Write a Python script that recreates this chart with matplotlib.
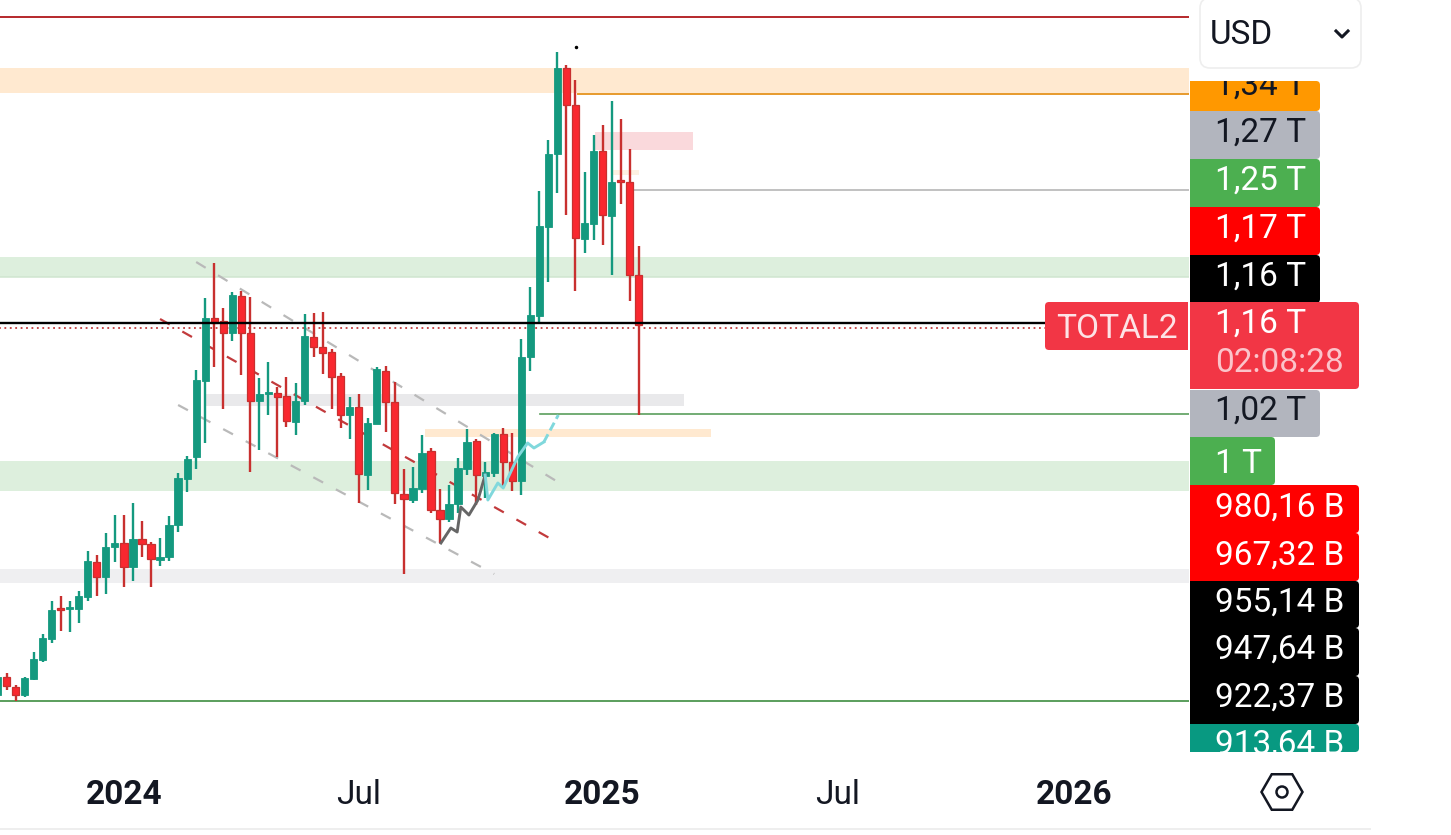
"""
Weekly TOTAL2 candlestick chart with drawings and a stack of price tags.
Candle values are chart levels read off the picture (no price grid is shown).

Usage :
    python plot.py
    -> writes out.png
"""
import numpy as np
import matplotlib
matplotlib.use("Agg")
import matplotlib.pyplot as plt
from matplotlib.patches import FancyBboxPatch, Rectangle, RegularPolygon, Circle

plt.rcParams["font.family"] = ["Roboto", "DejaVu Sans"]

OUTPUT_PATH = "out.png"
FONT_SIZE = 24

# =============================================================================
# CANDLES (one per week)
# =============================================================================
FIRST_WEEK = -1
OPENS = [140, 158, 148, 140, 156, 175, 196, 227, 226, 226, 238, 273, 258, 288, 292, 268, 296, 291,
         275, 278, 310, 356, 378, 454, 517, 514, 502, 539, 502, 434, 441, 442, 439, 413, 434, 498,
         488, 483, 459, 420, 428, 360, 411, 464, 433, 341, 335, 346, 384, 325, 316, 331, 366, 394,
         359, 362, 401, 373, 354, 478, 519, 608, 681, 767, 730, 596, 611, 684, 619, 655, 653, 560]
HIGHS = [160, 162, 150, 158, 183, 201, 234, 239, 234, 244, 284, 280, 302, 320, 320, 332, 314, 293,
         297, 319, 362, 379, 465, 537, 572, 527, 543, 544, 538, 457, 473, 448, 458, 452, 521, 522,
         523, 486, 462, 438, 441, 417, 468, 469, 453, 366, 368, 400, 387, 346, 350, 377, 406, 396,
         373, 402, 407, 402, 496, 548, 644, 695, 783, 770, 755, 663, 700, 710, 734, 716, 686, 589]
LOWS = [138, 145, 134, 138, 155, 173, 192, 204, 203, 212, 234, 239, 241, 273, 248, 254, 278, 248,
        269, 274, 303, 343, 366, 392, 468, 426, 494, 460, 363, 385, 420, 378, 408, 400, 430, 478,
        461, 426, 407, 396, 332, 345, 411, 403, 331, 261, 332, 342, 322, 292, 313, 322, 360, 330,
        337, 358, 347, 344, 340, 464, 512, 553, 642, 620, 544, 582, 595, 590, 560, 631, 534, 420]
CLOSES = [158, 149, 140, 157, 176, 197, 225, 225, 228, 239, 274, 258, 288, 292, 268, 296, 291, 276,
          278, 310, 357, 376, 455, 517, 512, 502, 540, 502, 434, 441, 443, 438, 414, 434, 499, 488,
          482, 458, 420, 428, 361, 412, 466, 433, 342, 336, 347, 382, 325, 316, 331, 367, 393, 360,
          363, 401, 373, 354, 478, 520, 609, 681, 767, 730, 597, 612, 684, 620, 653, 653, 560, 510]

# week index of each time label
TICK_WEEKS = [13, 39, 66, 92, 118.2]
TICK_LABELS = ["2024", "Jul", "2025", "Jul", "2026"]
TICK_BOLD = [True, False, True, False, True]

# =============================================================================
# DRAWINGS
# =============================================================================
# (level bottom, level top, color)
FULL_BANDS = [
    (742, 767, "#ffe9d0"),
    (558, 578, "#ddefdd"),
    (344, 374, "#ddefdd"),
    (252, 266, "#efeff1"),
]
# (week start, week end, level bottom, level top, color)
SHORT_BANDS = [
    (65.2, 76.0, 685, 703, "#fad9dc"),
    (66.9, 70.0, 660, 665, "#fdf1e2"),
    (22.0, 75.0, 429, 441, "#e9e9eb"),
    (46.3, 78.0, 398, 406, "#ffe9d0"),
]
# (week start, week end, level, color, width)
LEVEL_LINES = [
    (-1.0, 131.5, 818, "#b5282b", 1.4),
    (63.3, 131.5, 741, "#e79a2c", 1.4),
    (69.1, 131.5, 645, "#b0b0b0", 1.1),
    (-1.0, 131.5, 558, "#cfe5cf", 1.1),
    (59.1, 131.5, 421, "#5a9e5c", 1.2),
    (-1.0, 131.5, 134, "#5a9e5c", 1.4),
]
PRICE_LINE_END = 115.1
LAST_LEVEL = 512
CLOSE_LEVEL = 507.5

# (week start, level start, week end, level end, color)
TREND_LINES = [
    (21.0, 573, 61.6, 350, "#b9b9b9"),
    (19.0, 430, 54.0, 261, "#b9b9b9"),
    (17.0, 516, 60.5, 295, "#c23a3c"),
]
GREY_PATH_WEEKS = [48.1, 49.2, 49.9, 50.3, 51.2, 52.2, 53.0]
GREY_PATH_LEVELS = [292, 307, 303, 328, 320, 335, 360]
CYAN_PATH_WEEKS = [53.0, 53.3, 54.4, 55.0, 56.6, 57.7, 58.4, 59.5]
CYAN_PATH_LEVELS = [360, 335, 352, 347, 378, 392, 387, 393]
CYAN_DASH_WEEKS = [59.5, 61.1]
CYAN_DASH_LEVELS = [393, 420]

# =============================================================================
# PRICE TAGS
# =============================================================================
# (label, top, bottom, right, face, text color, text row)
TAGS = [
    ("1,34 T", 81, 111, 1320, "#ff9800", "#131722", 86),
    ("1,27 T", 111, 159, 1320, "#b2b5be", "#131722", 133),
    ("1,25 T", 159, 207, 1320, "#4caf50", "#ffffff", 181),
    ("1,17 T", 207, 255, 1320, "#ff0000", "#ffffff", 229),
    ("1,16 T", 255, 303, 1320, "#000000", "#ffffff", 277),
    ("1,02 T", 390, 437, 1320, "#b2b5be", "#131722", 411),
    ("1 T", 437, 485, 1275, "#4caf50", "#ffffff", 464),
    ("980,16 B", 485, 533, 1359, "#ff0000", "#ffffff", 508),
    ("967,32 B", 533, 581, 1359, "#ff0000", "#ffffff", 556),
    ("955,14 B", 581, 628, 1359, "#000000", "#ffffff", 603),
    ("947,64 B", 628, 676, 1359, "#000000", "#ffffff", 650),
    ("922,37 B", 676, 724, 1359, "#000000", "#ffffff", 698),
    ("913,64 B", 724, 752, 1359, "#089981", "#ffffff", 745),
]

UP_COLOR = "#14997f"
DOWN_COLOR = "#f9282f"
DOWN_WICK = "#c8302f"
RED_TAG = "#f23645"


def draw_candles(ax):
    opens = np.array(OPENS)
    closes = np.array(CLOSES)
    weeks = np.arange(FIRST_WEEK, FIRST_WEEK + len(OPENS))
    rising = closes >= opens
    wick_colors = [UP_COLOR if r else DOWN_WICK for r in rising]
    ax.vlines(weeks, LOWS, HIGHS, colors=wick_colors, linewidth=1.7, zorder=4)
    bottoms = np.minimum(opens, closes)
    heights = np.abs(closes - opens)
    ax.bar(weeks[rising], heights[rising], bottom=bottoms[rising], width=0.8,
           color=UP_COLOR, edgecolor=UP_COLOR, linewidth=0.6, zorder=5)
    ax.bar(weeks[~rising], heights[~rising], bottom=bottoms[~rising], width=0.8,
           color=DOWN_COLOR, edgecolor=DOWN_WICK, linewidth=0.9, zorder=5)


def draw_drawings(ax):
    for bottom, top, color in FULL_BANDS:
        ax.axhspan(bottom, top, color=color, linewidth=0, zorder=1)
    for x1, x2, bottom, top, color in SHORT_BANDS:
        ax.add_patch(Rectangle((x1, bottom), x2 - x1, top - bottom, facecolor=color,
                               linewidth=0, zorder=1))
    for x1, x2, level, color, width in LEVEL_LINES:
        ax.plot([x1, x2], [level, level], color=color, linewidth=width, zorder=2)
    ax.plot([-1, PRICE_LINE_END], [LAST_LEVEL, LAST_LEVEL], color="black", linewidth=1.7, zorder=6)
    ax.plot([-1, PRICE_LINE_END], [CLOSE_LEVEL, CLOSE_LEVEL], color="#c0393b", linewidth=1.3,
            linestyle=(0, (1, 2)), zorder=3)
    for x1, y1, x2, y2, color in TREND_LINES:
        ax.plot([x1, x2], [y1, y2], color=color, linewidth=1.6, linestyle=(0, (5, 6.5)), zorder=3)
    ax.plot(GREY_PATH_WEEKS, GREY_PATH_LEVELS, color="#666666", linewidth=2.1, zorder=7)
    ax.plot(CYAN_PATH_WEEKS, CYAN_PATH_LEVELS, color="#80d8dc", linewidth=2.1, zorder=7)
    ax.plot(CYAN_DASH_WEEKS, CYAN_DASH_LEVELS, color="#80d8dc", linewidth=2.1,
            linestyle=(0, (3, 1.5)), zorder=7)
    ax.plot([63.1], [788], marker="o", markersize=1.5, color="black", zorder=7)


def draw_tag(side, label, top, bottom, right, face, text_color, row):
    rounded = FancyBboxPatch((1190, top), right - 1190, bottom - top,
                             boxstyle="round,pad=0,rounding_size=4", facecolor=face, linewidth=0)
    side.add_patch(rounded)
    side.add_patch(Rectangle((1190, top), 10, bottom - top, facecolor=face, linewidth=0))
    clip = Rectangle((1190, top), right - 1190, bottom - top, transform=side.transData)
    text = side.text(1215, row, label, color=text_color, fontsize=FONT_SIZE, ha="left", va="center")
    text.set_clip_on(True)
    text.set_clip_path(clip)


def draw_side(side):
    for label, top, bottom, right, face, text_color, row in TAGS:
        draw_tag(side, label, top, bottom, right, face, text_color, row)

    # last price tag with countdown
    side.add_patch(FancyBboxPatch((1190, 302), 169, 87, boxstyle="round,pad=0,rounding_size=4",
                                  facecolor=RED_TAG, linewidth=0))
    side.add_patch(Rectangle((1190, 302), 10, 87, facecolor=RED_TAG, linewidth=0))
    side.text(1215, 324, "1,16 T", color="white", fontsize=FONT_SIZE, ha="left", va="center")
    side.text(1215, 363, "02:08:28", color="#fbc4ca", fontsize=FONT_SIZE, ha="left", va="center")

    # symbol tag
    side.add_patch(FancyBboxPatch((1045, 302), 143, 48, boxstyle="round,pad=0,rounding_size=4",
                                  facecolor=RED_TAG, linewidth=0))
    side.add_patch(Rectangle((1178, 302), 10, 48, facecolor=RED_TAG, linewidth=0))
    side.text(1117, 329, "TOTAL2", color="#fde3e6", fontsize=FONT_SIZE, ha="center", va="center")

    # currency selector
    side.add_patch(FancyBboxPatch((1200, -2), 161, 70, boxstyle="round,pad=0,rounding_size=10",
                                  facecolor="white", edgecolor="#eeeeee", linewidth=1.2))
    side.text(1210, 35, "USD", color="#131722", fontsize=FONT_SIZE, ha="left", va="center")
    side.plot([1336, 1342, 1348], [31, 37, 31], color="#131722", linewidth=2.2)

    # settings icon and bottom rule
    side.add_patch(RegularPolygon((1282, 792), 6, radius=20.5, orientation=np.pi / 6,
                                  facecolor="none", edgecolor="#131722", linewidth=1.8))
    side.add_patch(Circle((1282, 792), 5.5, facecolor="none", edgecolor="#131722", linewidth=1.8))
    side.plot([0, 1370], [829, 829], color="#eeeeee", linewidth=1.4)


def main():
    fig = plt.figure(figsize=(14.51, 8.35), dpi=100, facecolor="white")
    ax = fig.add_axes([0, 83 / 835, 1189 / 1451, 752 / 835])
    ax.set_xlim(-0.72, 130.93)
    ax.set_ylim(83, 835)
    for spine in ax.spines.values():
        spine.set_visible(False)
    ax.set_yticks([])
    ax.set_xticks(TICK_WEEKS)
    ax.set_xticklabels(TICK_LABELS, fontsize=FONT_SIZE, color="#131722")
    ax.tick_params(axis="x", length=0, pad=19.5)
    for tick, bold in zip(ax.get_xticklabels(), TICK_BOLD):
        tick.set_fontweight("bold" if bold else "normal")

    draw_drawings(ax)
    draw_candles(ax)

    side = fig.add_axes([0, 0, 1, 1])
    side.set_xlim(0, 1451)
    side.set_ylim(835, 0)
    side.axis("off")
    side.patch.set_alpha(0)
    draw_side(side)

    fig.savefig(OUTPUT_PATH, dpi=100)


if __name__ == "__main__":
    main()
